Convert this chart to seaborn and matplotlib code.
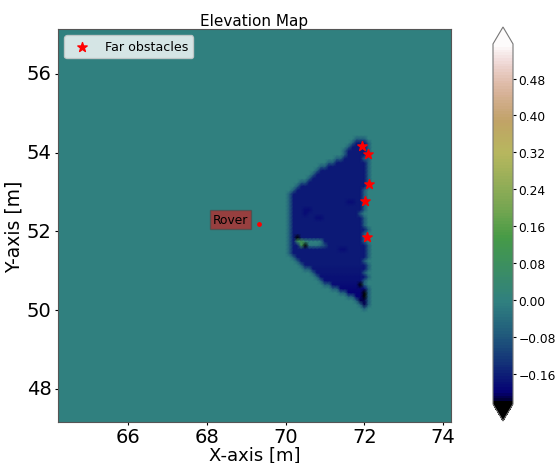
import numpy as np
import matplotlib
matplotlib.use("Agg")
import matplotlib.pyplot as plt
import seaborn as sns

# region outline, one row per 0.1 m of y
row_y = [54.25, 54.15, 54.05, 53.95, 53.85, 53.75, 53.65, 53.55, 53.45, 53.35, 53.25, 53.15, 53.05, 52.95,
         52.85, 52.75, 52.65, 52.55, 52.45, 52.35, 52.25, 52.15, 52.05, 51.95, 51.85, 51.75, 51.65, 51.55,
         51.45, 51.35, 51.25, 51.15, 51.05, 50.95, 50.85, 50.75, 50.65, 50.55, 50.45, 50.35, 50.25, 50.15]
row_left = [71.8, 71.7, 71.6, 71.55, 71.45, 71.3, 71.05, 70.9, 70.8, 70.65, 70.55, 70.4, 70.3, 70.15,
            70.15, 70.15, 70.15, 70.15, 70.15, 70.15, 70.15, 70.15, 70.15, 70.15, 70.15, 70.15, 70.15, 70.15,
            70.15, 70.3, 70.4, 70.5, 70.65, 70.75, 70.9, 71.0, 71.2, 71.4, 71.6, 71.75, 71.9, 72.0]
row_right = [72.0, 72.0, 72.0, 72.0, 72.0, 72.0, 72.0, 72.0, 72.0, 72.0, 72.0, 72.0, 71.95, 71.95,
             71.95, 71.95, 71.9, 71.9, 71.85, 71.9, 71.95, 71.95, 72.0, 71.95, 71.95, 71.9, 72.0, 72.0,
             72.0, 72.0, 71.95, 72.0, 72.0, 71.9, 72.0, 71.9, 71.95, 72.0, 72.0, 72.0, 72.05, 72.05]
row_elev = [-0.17, -0.17, -0.17, -0.17, -0.17, -0.17, -0.17, -0.17, -0.17, -0.17, -0.17, -0.17, -0.17, -0.17,
            -0.17, -0.17, -0.17, -0.17, -0.17, -0.17, -0.17, -0.17, -0.17, -0.17, -0.17, -0.17, -0.17, -0.17,
            -0.17, -0.17, -0.17, -0.17, -0.175, -0.175, -0.18, -0.18, -0.185, -0.19, -0.2, -0.2, -0.21, -0.21]

# spots that differ from their row
spot_x = [70.3, 70.5, 70.4, 70.4, 70.3, 70.5, 70.6, 70.7, 70.8, 70.9, 70.6, 70.7, 70.8, 70.9,
          71.0, 71.6, 71.7, 70.8, 70.9, 71.4, 71.5, 72.0, 70.5, 70.6, 70.5, 71.9, 72.0, 72.0]
spot_y = [51.85, 51.65, 51.75, 51.65, 51.75, 51.75, 51.75, 51.75, 51.75, 51.75, 51.65, 51.65, 51.65, 51.65,
          51.65, 52.75, 52.75, 52.35, 52.35, 51.55, 51.55, 50.45, 52.55, 52.55, 52.45, 50.65, 50.35, 53.85]
spot_elev = [-0.3, -0.3, 0.12, 0.1, 0.06, 0.03, 0.0, 0.0, 0.0, -0.02, -0.02, -0.02, -0.02, -0.06,
             -0.1, -0.185, -0.185, -0.185, -0.185, -0.185, -0.185, -0.24, -0.185, -0.185, -0.185, -0.22, -0.24, -0.06]

far_x = [71.94, 72.09, 72.12, 72.02, 72.06]
far_y = [54.18, 53.96, 53.21, 52.76, 51.85]
rover_x = [69.32]
rover_y = [52.2]

x_ticks = [66, 68, 70, 72, 74]
y_ticks = [48, 50, 52, 54, 56]
cbar_ticks = [-0.16, -0.08, 0.0, 0.08, 0.16, 0.24, 0.32, 0.40, 0.48]

grid_x = np.arange(101) * 0.1 + 64.2
grid_y = np.arange(101) * 0.1 + 47.15
elev = np.zeros((101, 101))
for y, l, r, v in zip(row_y, row_left, row_right, row_elev):
    elev[np.argmin(np.abs(grid_y - y)), (grid_x >= l) & (grid_x <= r)] = v

# dark rim round the region
inside = elev != 0
rim = np.zeros_like(inside)
rim[1:, :] |= inside[:-1, :]
rim[:-1, :] |= inside[1:, :]
rim[:, 1:] |= inside[:, :-1]
rim[:, :-1] |= inside[:, 1:]
elev[rim & ~inside] = -0.07

for x, y, v in zip(spot_x, spot_y, spot_elev):
    elev[np.argmin(np.abs(grid_y - y)), np.argmin(np.abs(grid_x - x))] = v


def cx(x):
    return (np.asarray(x) - grid_x[0]) / 0.1


def cy(y):
    return (np.asarray(y) - grid_y[0]) / 0.1


fig = plt.figure(figsize=(5.55, 4.64), dpi=100)
ax = fig.add_axes([58 / 555, 1 - 423 / 464, 393 / 555, 393 / 464])
cax = fig.add_axes([493 / 555, 1 - 422 / 464, 20 / 555, 394 / 464])

cmap = plt.get_cmap("gist_earth").resampled(128)
sns.heatmap(elev, ax=ax, cbar_ax=cax, cmap=cmap, vmin=-0.225, vmax=0.555, shading="gouraud",
            cbar_kws={"extend": "both", "ticks": cbar_ticks, "extendfrac": 0.047})
ax.set_xlim(cx(64.22), cx(74.2))
ax.set_ylim(cy(47.16), cy(57.14))
ax.set_xticks(cx(x_ticks))
ax.set_xticklabels([str(t) for t in x_ticks], rotation=0, fontsize=14)
ax.set_yticks(cy(y_ticks))
ax.set_yticklabels([str(t) for t in y_ticks], rotation=0, fontsize=14)
ax.tick_params(length=2.5, width=0.8, pad=2)
ax.tick_params(axis="x", pad=1)
for s in ax.spines.values():
    s.set_visible(True)
    s.set_color("#555555")
    s.set_linewidth(0.8)

ax.scatter(cx(far_x), cy(far_y), marker="*", s=50, color="red", label="Far obstacles", zorder=5)
ax.scatter(cx(rover_x), cy(rover_y), s=6, color="red", zorder=5)
ax.text(cx(68.15), cy(52.3), "Rover", fontsize=8.8, va="center", color="black",
        bbox=dict(facecolor="red", alpha=0.5, edgecolor="#444444", pad=2))
ax.legend(loc="upper left", fontsize=9.1, frameon=True)

ax.set_title("Elevation Map", fontsize=11, pad=3)
ax.set_xlabel("X-axis [m]", fontsize=13)
ax.set_ylabel("Y-axis [m]", fontsize=13.5)
ax.xaxis.set_label_coords(0.5, -0.06)
ax.yaxis.set_label_coords(-0.0865, 0.5)

cb = ax.collections[0].colorbar
cb.ax.tick_params(labelsize=8.8, length=2.5, pad=1.5)
cb.outline.set_edgecolor("#777777")
cb.outline.set_linewidth(0.8)

fig.savefig("out.png", dpi=100)
plt.close(fig)
